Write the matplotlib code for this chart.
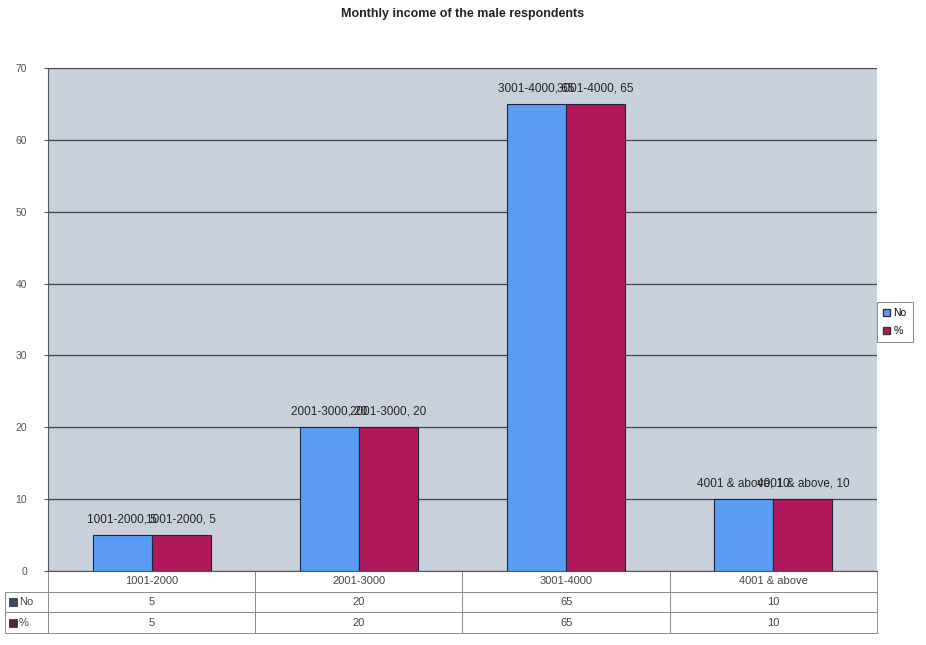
import numpy as np
import matplotlib.pyplot as plt
from matplotlib.patches import Rectangle

# income bands and the two series shown
categories = ['1001-2000', '2001-3000', '3001-4000', '4001 & above']
no_values = [5, 20, 65, 10]
pct_values = [5, 20, 65, 10]
series_names = ['No', '%']
yticks = [0, 10, 20, 30, 40, 50, 60, 70]

blue = '#5a9cf2'
red = '#b0185a'
colors = [blue, red]

plt.rcParams['font.family'] = ['Liberation Sans', 'DejaVu Sans']

fig = plt.figure(figsize=(9.26, 6.45), dpi=100)
fig.patch.set_facecolor('white')
ax = fig.add_axes([0.0518, 0.1147, 0.8952, 0.7799])
ax.set_facecolor('#c8d0dc')

x = np.arange(len(categories))
w = 0.285
series = [no_values, pct_values]
for i, vals in enumerate(series):
    pos = x + (i - 0.5) * w
    ax.bar(pos, vals, width=w, color=colors[i], edgecolor='#1c2440',
           linewidth=0.8, zorder=3)
    for p, c, v in zip(pos, categories, vals):
        ax.annotate(f'{c}, {v}', (p, v), xytext=(0, 7),
                    textcoords='offset points', ha='center', va='bottom',
                    fontsize=8.5, color='#222222', zorder=4)

ax.set_xlim(-0.5, len(categories) - 0.5)
ax.set_ylim(0, 70)
ax.set_yticks(yticks)
ax.set_yticklabels([str(t) for t in yticks], fontsize=7.5, color='#555555')
ax.tick_params(axis='y', length=3, color='#555555', pad=12)
ax.set_xticks([])
ax.yaxis.grid(True, color='#3d4450', linewidth=0.9, zorder=1)
ax.set_axisbelow(True)
for s in ['top', 'right']:
    ax.spines[s].set_visible(False)
ax.spines['left'].set_color('#555555')
ax.spines['bottom'].set_color('#555555')

# data table under the plot
cell_text = [[''] + categories,
             [''] + [str(v) for v in no_values],
             [''] + [str(v) for v in pct_values]]
lab_w = 43 / 829
tbl_h = 0.1233
tbl = ax.table(cellText=cell_text,
               colWidths=[lab_w] + [1 / len(categories)] * len(categories),
               bbox=[-lab_w, -tbl_h, 1 + lab_w, tbl_h],
               cellLoc='center')
tbl.auto_set_font_size(False)
for (r, c), cell in tbl.get_celld().items():
    cell.set_edgecolor('#8a8a8a')
    cell.set_linewidth(0.7)
    cell.set_facecolor('white')
    cell.get_text().set_fontsize(8)
    cell.get_text().set_color('#444444')
    if r == 0 and c == 0:
        cell.visible_edges = 'R'

# row labels with small series swatches
row_h = tbl_h / 3
swatch_cols = ['#3a4a60', '#4a2a40']
for i, name in enumerate(series_names):
    yc = -row_h * (1.5 + i)
    ax.add_patch(Rectangle((-lab_w + 0.005, yc - 0.008), 0.009, 0.016,
                           transform=ax.transAxes, clip_on=False,
                           facecolor=swatch_cols[i], edgecolor='#222222',
                           linewidth=0.5, zorder=5))
    ax.text(-lab_w + 0.017, yc, name, transform=ax.transAxes,
            ha='left', va='center', fontsize=8, color='#444444')

leg = ax.legend([Rectangle((0, 0), 1, 1, fc=colors[0], ec='#333333'),
                 Rectangle((0, 0), 1, 1, fc=colors[1], ec='#333333')],
                series_names, loc='center left', bbox_to_anchor=(1.0, 0.495),
                borderaxespad=0, fontsize=7.5, frameon=True, fancybox=False,
                handlelength=0.7, handleheight=0.7, handletextpad=0.3,
                borderpad=0.6, labelspacing=0.8)
leg.get_frame().set_edgecolor('#666666')
leg.get_frame().set_linewidth(0.7)

fig.suptitle('Monthly income of the male respondents', y=0.988,
             fontsize=9, fontweight='bold', color='#222222')

fig.savefig('out.png', dpi=100)
